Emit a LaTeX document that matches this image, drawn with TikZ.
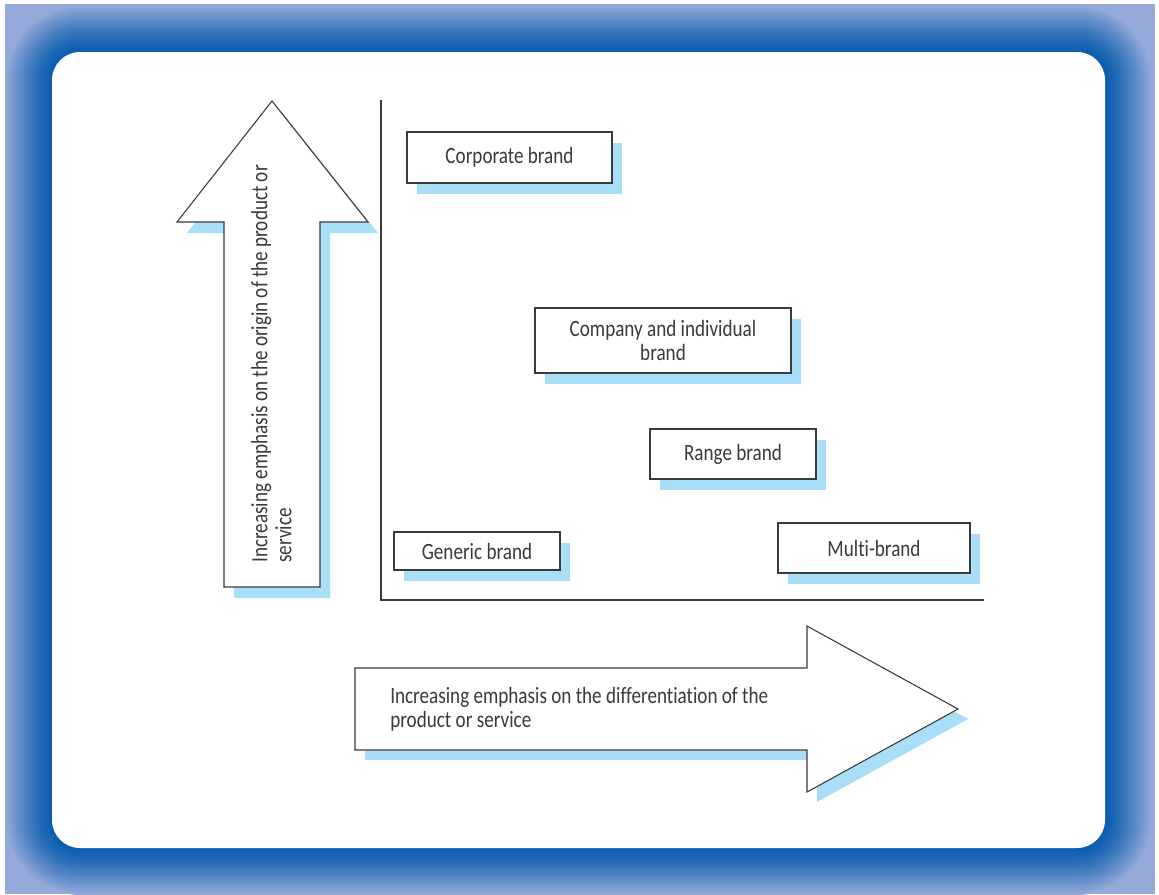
\documentclass[tikz,border=0pt]{standalone}
\usepackage{fontspec}
\setmainfont{Carlito}[FakeStretch=0.82, Ligatures=NoCommon]
\usetikzlibrary{shadows}
\definecolor{framedark}{HTML}{0B5DAF}
\definecolor{framelight}{HTML}{95AAD9}
\definecolor{shadeblue}{HTML}{A8DEF8}
\definecolor{inkgray}{HTML}{3A3A3A}
\tikzset{
  brandbox/.style={draw=inkgray, line width=1pt, fill=white, text=inkgray, inner sep=0pt, align=center,
    drop shadow={shadow xshift=7.5pt, shadow yshift=-8.25pt, fill=shadeblue, opacity=1}},
  bigarrow/.style={draw=inkgray, line width=0.8pt, fill=white},
  arrowshade/.style={fill=shadeblue},
  arrowtext/.style={inner sep=0pt, align=left, text=inkgray},
}

\begin{document}
\begin{tikzpicture}[x=0.75pt, y=-0.75pt, font=\fontsize{17.5}{18}\selectfont]
  \useasboundingbox (0,0) rectangle (1159,894);
  \begin{scope}
    \clip (5,4) rectangle (1155,894);
    \fill[framelight] (5,4) rectangle (1155,894);
    \foreach \k [evaluate=\k as \p using {100*(1-(\k/47)^1.3)}, evaluate=\k as \r using {(28+\k)*0.75}] in {47,...,0}
      \fill[framedark!\p!framelight, rounded corners=\r pt] (52-\k,52-\k) rectangle (1105+\k,848+\k);
    \fill[white, rounded corners=21pt] (52,52) rectangle (1105,848);
  \end{scope}

  \coordinate (ytop) at (381,100);
  \coordinate (orig) at (381,600);
  \coordinate (xend) at (984,600);
  \draw[inkgray, line width=0.9pt] (ytop) -- (orig) -- (xend);

  \begin{scope}
    \fill[arrowshade, shift={(10,11)}] (272,101) -- (368,222) -- (320,222) -- (320,587) -- (224,587) -- (224,222) -- (177,222) -- cycle;
    \draw[bigarrow] (272,101) -- (368,222) -- (320,222) -- (320,587) -- (224,587) -- (224,222) -- (177,222) -- cycle;
    \node[arrowtext, rotate=90, anchor=north west] (origintxt) at (251,563) {Increasing emphasis on the origin of the product or\\service};
  \end{scope}

  \begin{scope}
    \fill[arrowshade, shift={(10,10)}] (355,668) -- (807,668) -- (807,626) -- (958,709) -- (807,792) -- (807,750) -- (355,750) -- cycle;
    \draw[bigarrow] (355,668) -- (807,668) -- (807,626) -- (958,709) -- (807,792) -- (807,750) -- (355,750) -- cycle;
    \node[arrowtext, anchor=north west] (difftxt) at (390,687) {Increasing emphasis on the differentiation of the\\product or service};
  \end{scope}

  \node[brandbox, minimum width=153.75pt, minimum height=38.25pt] (corporate) at (509.5,157.5) {Corporate brand};
  \node[brandbox, minimum width=192pt, minimum height=48.75pt] (company) at (663,340.5) {Company and individual\\brand};
  \node[brandbox, minimum width=124.5pt, minimum height=37.5pt] (range) at (733,454) {Range brand};
  \node[brandbox, minimum width=124.5pt, minimum height=28.5pt] (generic) at (477,551) {Generic brand};
  \node[brandbox, minimum width=144pt, minimum height=37.5pt] (multi) at (874,548) {Multi-brand};
\end{tikzpicture}
\end{document}
